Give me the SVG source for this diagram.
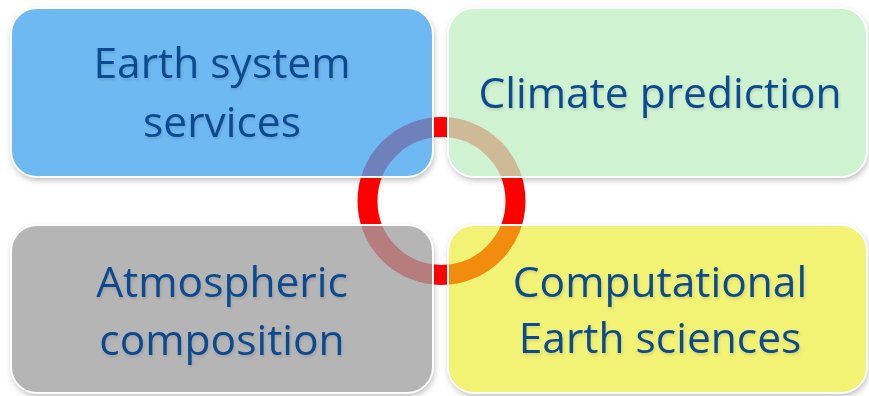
<svg xmlns="http://www.w3.org/2000/svg" width="869" height="396" viewBox="0 0 869 396">
  <defs>
    <filter id="blur" x="-10%" y="-10%" width="120%" height="130%">
      <feGaussianBlur stdDeviation="3"/>
    </filter>
    <filter id="tsh" x="-5%" y="-20%" width="110%" height="140%">
      <feDropShadow dx="1" dy="2" stdDeviation="1.5" flood-color="#000" flood-opacity="0.12"/>
    </filter>
    <mask id="cut" maskUnits="userSpaceOnUse" x="0" y="0" width="869" height="396">
      <rect width="869" height="396" fill="#fff"/>
      <rect x="11" y="8" width="422" height="169" rx="26" fill="#000"/>
      <rect x="448" y="8" width="419" height="169" rx="26" fill="#000"/>
      <rect x="11" y="225" width="422" height="168" rx="26" fill="#000"/>
      <rect x="448" y="225" width="419" height="168" rx="26" fill="#000"/>
    </mask>
  </defs>
  <style>
    .box { stroke: #ffffff; stroke-width: 2; }
    .shd { fill: #000; fill-opacity: 0.28; }
    .lbl { font-family: "Open Sans", "Liberation Sans", sans-serif; font-size: 42.5px; fill: #0b4a8e; text-anchor: middle; }
  </style>
  <rect width="869" height="396" fill="#ffffff"/>
  <g id="shadows" mask="url(#cut)">
    <g filter="url(#blur)">
      <rect class="shd" x="12" y="11" width="422" height="169" rx="26"/>
      <rect class="shd" x="449" y="11" width="419" height="169" rx="26"/>
      <rect class="shd" x="12" y="228" width="422" height="168" rx="26"/>
      <rect class="shd" x="449" y="228" width="419" height="168" rx="26"/>
    </g>
  </g>
  <g id="connectors">
    <circle id="ring" cx="441.5" cy="201" r="74" fill="none" stroke="#ff0000" stroke-width="20"/>
  </g>
  <g id="n1">
    <rect class="box" x="11" y="8" width="422" height="169" rx="26" fill="rgb(70,165,238)" fill-opacity="0.78"/>
  </g>
  <g id="n2">
    <rect class="box" x="448" y="8" width="419" height="169" rx="26" fill="rgb(194,238,195)" fill-opacity="0.78"/>
  </g>
  <g id="n3">
    <rect class="box" x="11" y="225" width="422" height="168" rx="26" fill="rgb(160,160,160)" fill-opacity="0.78"/>
  </g>
  <g id="n4">
    <rect class="box" x="448" y="225" width="419" height="168" rx="26" fill="rgb(234,234,25)" fill-opacity="0.6"/>
  </g>
  <g id="labels" filter="url(#tsh)">
    <text class="lbl" x="222" y="78">Earth system</text>
    <text class="lbl" x="222" y="137">services</text>
    <text class="lbl" x="660" y="108">Climate prediction</text>
    <text class="lbl" x="222" y="297">Atmospheric</text>
    <text class="lbl" x="222" y="355">composition</text>
    <text class="lbl" x="660" y="297">Computational</text>
    <text class="lbl" x="660" y="353">Earth sciences</text>
  </g>
</svg>
